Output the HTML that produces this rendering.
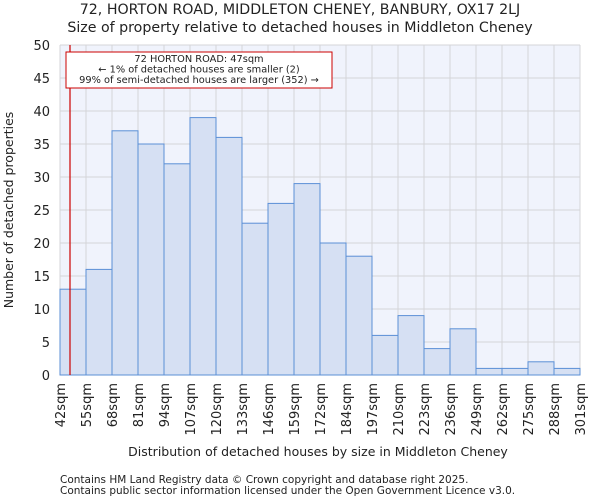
<!DOCTYPE html>
<html><head><meta charset="utf-8"><style>
body{margin:0;background:#fff;font-family:"DejaVu Sans","Liberation Sans",sans-serif}
svg text{font-family:"DejaVu Sans","Liberation Sans",sans-serif;fill:#222}
</style></head><body>
<svg id="chart" width="600" height="500" xmlns="http://www.w3.org/2000/svg">
<text x="300" y="14" text-anchor="middle" font-size="14.2">72, HORTON ROAD, MIDDLETON CHENEY, BANBURY, OX17 2LJ</text>
<text x="300" y="32" text-anchor="middle" font-size="14.2">Size of property relative to detached houses in Middleton Cheney</text>
<rect x="60" y="45" width="520" height="330" fill="#f0f3fc"/>
<g id="grid"></g><g id="bars"></g><g id="axes"></g>
<text transform="translate(13,210) rotate(-90)" text-anchor="middle" font-size="12.5">Number of detached properties</text>
<text x="318" y="456" text-anchor="middle" font-size="12.5">Distribution of detached houses by size in Middleton Cheney</text>
<text x="60" y="483" font-size="10.5" fill="#444">Contains HM Land Registry data © Crown copyright and database right 2025.</text>
<text x="60" y="494" font-size="10.5" fill="#444">Contains public sector information licensed under the Open Government Licence v3.0.</text>
</svg>
<script>
const binEdges=[42,55,68,81,94,107,120,133,146,159,172,184,197,210,223,236,249,262,275,288,301];
const tickLabels=["42sqm","55sqm","68sqm","81sqm","94sqm","107sqm","120sqm","133sqm","146sqm","159sqm","172sqm","184sqm","197sqm","210sqm","223sqm","236sqm","249sqm","262sqm","275sqm","288sqm","301sqm"];
const counts=[13,16,37,35,32,39,36,23,26,29,20,18,6,9,4,7,1,1,2,1];
const yTicks=[0,5,10,15,20,25,30,35,40,45,50];
const propertySize=47;
const NS="http://www.w3.org/2000/svg";
const x0=60,pw=520,y0=375,ph=330,ymax=50;
const xi=i=>x0+i*pw/counts.length;
const xv=v=>{for(let i=0;i<binEdges.length-1;i++){if(v<=binEdges[i+1])return xi(i)+(v-binEdges[i])/(binEdges[i+1]-binEdges[i])*(pw/counts.length);}return x0+pw;};
const y=v=>y0-v/ymax*ph;
function mk(t,a,p){const e=document.createElementNS(NS,t);for(const k in a)e.setAttribute(k,a[k]);p.appendChild(e);return e;}
const grid=document.getElementById('grid'),bars=document.getElementById('bars'),axes=document.getElementById('axes');
yTicks.forEach(v=>{
 const l=mk('line',{x1:x0,x2:x0+pw,y1:y(v),y2:y(v),stroke:'#d4d4d8'},grid);
 
 
 const t=mk('text',{x:x0-10,y:y(v)+5,'text-anchor':'end','font-size':'13'},axes);t.textContent=v;
 
 
});
tickLabels.forEach((s,i)=>{
 const l=mk('line',{x1:xi(i),x2:xi(i),y1:y0-ph,y2:y0,stroke:'#d4d4d8'},grid);
 
 
 const t=mk('text',{transform:`translate(${xi(i)+5},383) rotate(-90)`,'text-anchor':'end','font-size':'13'},axes);t.textContent=s;
 
 
});
counts.forEach((c,i)=>{
 const r=mk('rect',{x:xi(i),y:y(c),width:pw/counts.length,height:y0-y(c),fill:'#d6e0f3',stroke:'#5b8fd6','stroke-width':1},bars);
 
 
});
const px=xv(propertySize);
const rl=mk('line',{x1:px,x2:px,y1:y0-ph,y2:y0,stroke:'#cc0000','stroke-width':1.2},axes);


const box=mk('rect',{x:66,y:52,width:266,height:36,fill:'#fff',stroke:'#cc0000'},axes);


["72 HORTON ROAD: 47sqm","← 1% of detached houses are smaller (2)","99% of semi-detached houses are larger (352) →"].forEach((s,i)=>{
 const t=mk('text',{x:199,y:62+i*10.5,'text-anchor':'middle','font-size':'9.8'},axes);t.textContent=s;
 
 
});
</script>
</body></html>
